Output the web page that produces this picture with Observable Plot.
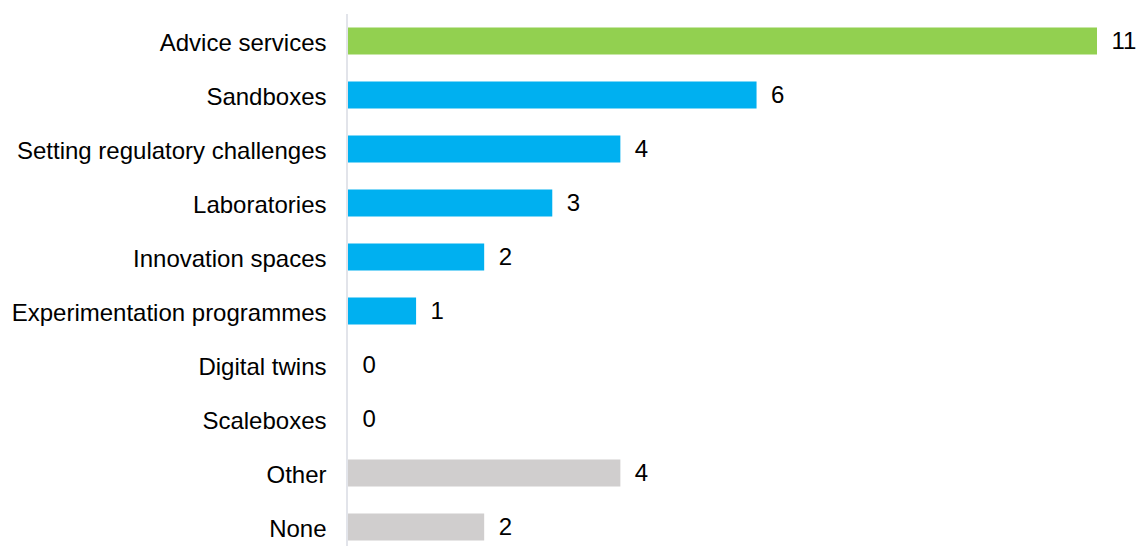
<!DOCTYPE html>
<html>
<head>
<meta charset="utf-8">
<script src="https://cdn.jsdelivr.net/npm/d3@7"></script>
<script src="https://cdn.jsdelivr.net/npm/@observablehq/plot@0.6"></script>
<style>
  html, body { margin: 0; padding: 0; background: #fff; overflow: hidden; }
</style>
</head>
<body>
<div id="chart"></div>
<script>
const categories = ["Advice services", "Sandboxes", "Setting regulatory challenges", "Laboratories", "Innovation spaces", "Experimentation programmes", "Digital twins", "Scaleboxes", "Other", "None"];
const values = [11, 6, 4, 3, 2, 1, 0, 0, 4, 2];
const groups = ["top", "main", "main", "main", "main", "main", "main", "main", "other", "other"];

const data = categories.map((c, i) => ({category: c, value: values[i], group: groups[i]}));

const fs = 24;
const chart = Plot.plot({
  width: 1140,
  height: 546,
  marginLeft: 348,
  marginRight: 43,
  marginTop: 14,
  marginBottom: 0,
  style: {fontFamily: "'Liberation Sans', Arial, sans-serif", color: "#000", background: "#fff", overflow: "hidden"},
  x: {domain: [0, 11], axis: null},
  y: {domain: categories, range: [14, 554], padding: 0},
  color: {domain: ["top", "main", "other"], range: ["#92D050", "#00B0F0", "#D0CECE"]},
  marks: [
    Plot.barX(data, {x: "value", y: "category", fill: "group", insetTop: 13.5, insetBottom: 13.5}),
    Plot.ruleX([0], {dx: -1.5, stroke: "#d9dbe3", strokeWidth: 1.5}),
    Plot.axisY({tickSize: 0, tickPadding: 22, fontSize: fs, label: null, dy: 1.5}),
    Plot.text(data, {x: "value", y: "category", text: d => String(d.value), textAnchor: "start", dx: 14, fontSize: fs, fill: "#000"})
  ]
});
document.getElementById("chart").appendChild(chart);
</script>
</body>
</html>
